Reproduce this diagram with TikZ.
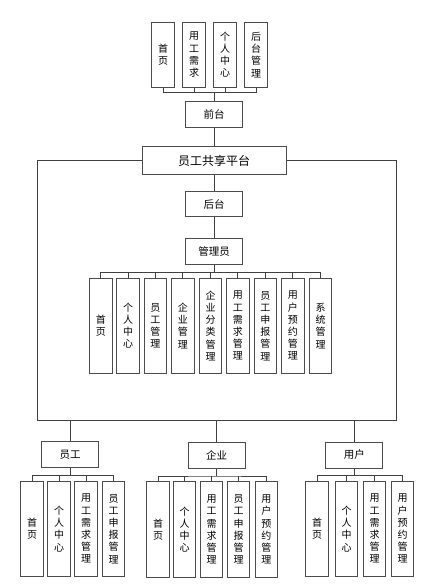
\documentclass[tikz,border=0pt]{standalone}
\usepackage{fontspec}
\setmainfont{Noto Sans CJK SC}

\begin{document}
\begin{tikzpicture}[x=1pt,y=-1pt,line width=0.8pt]
  \tikzstyle{box}=[rectangle,draw=black!70,fill=white,line width=1pt,minimum width=57pt,minimum height=26pt,inner sep=0pt,font=\fontsize{10.5}{12}\selectfont]
  \tikzstyle{vbox}=[rectangle,draw=black!70,fill=white,line width=1pt,minimum width=22.5pt,inner sep=0pt,align=center,font=\fontsize{10}{12.2}\selectfont]
  \tikzstyle{wire}=[draw=black!75]
  \useasboundingbox (0,0) rectangle (430,585);
  % front end
  \node[vbox,minimum height=65pt] (q1) at (163,54.8) {首\\页};
  \node[vbox,minimum height=65pt] (q2) at (194,54.8) {用\\工\\需\\求};
  \node[vbox,minimum height=65pt] (q3) at (225,54.8) {个\\人\\中\\心};
  \node[vbox,minimum height=65pt] (q4) at (256,54.8) {后\\台\\管\\理};
  \node[box] (qt) at (214,114.5) {前台};
  \node[box,minimum width=144pt,minimum height=27.5pt,font=\fontsize{12}{14}\selectfont] (pt) at (214,160.5) {员工共享平台};
  % back end
  \node[box,minimum height=25pt] (ht) at (214,204.2) {后台};
  \node[box] (gly) at (214,251.3) {管理员};
  \node[vbox,minimum height=95pt] (g1) at (100.8,325.8) {首\\页};
  \node[vbox,minimum height=95pt] (g2) at (128,325.8) {个\\人\\中\\心};
  \node[vbox,minimum height=95pt] (g3) at (155.3,325.8) {员\\工\\管\\理};
  \node[vbox,minimum height=95pt] (g4) at (182.8,325.8) {企\\业\\管\\理};
  \node[vbox,minimum height=95pt] (g5) at (210.5,325.8) {企\\业\\分\\类\\管\\理};
  \node[vbox,minimum height=95pt] (g6) at (237.8,325.8) {用\\工\\需\\求\\管\\理};
  \node[vbox,minimum height=95pt] (g7) at (265.3,325.8) {员\\工\\申\\报\\管\\理};
  \node[vbox,minimum height=95pt] (g8) at (292.8,325.8) {用\\户\\预\\约\\管\\理};
  \node[vbox,minimum height=95pt] (g9) at (320.5,325.8) {系\\统\\管\\理};
  % roles
  \node[box] (yg) at (70,454.7) {员工};
  \node[box] (qy) at (216.7,455.3) {企业};
  \node[box] (yh) at (354.3,455) {用户};
  \node[vbox,minimum height=95.5pt] (e1) at (32.2,528.8) {首\\页};
  \node[vbox,minimum height=95.5pt] (e2) at (59.2,528.8) {个\\人\\中\\心};
  \node[vbox,minimum height=95.5pt] (e3) at (86.2,528.8) {用\\工\\需\\求\\管\\理};
  \node[vbox,minimum height=95.5pt] (e4) at (113.5,528.8) {员\\工\\申\\报\\管\\理};
  \node[vbox,minimum height=95.5pt] (c1) at (158,529.5) {首\\页};
  \node[vbox,minimum height=95.5pt] (c2) at (184.5,529.5) {个\\人\\中\\心};
  \node[vbox,minimum height=95.5pt] (c3) at (211.5,529.5) {用\\工\\需\\求\\管\\理};
  \node[vbox,minimum height=95.5pt] (c4) at (238.7,529.5) {员\\工\\申\\报\\管\\理};
  \node[vbox,minimum height=95.5pt] (c5) at (266.3,529.5) {用\\户\\预\\约\\管\\理};
  \node[vbox,minimum height=95.5pt] (u1) at (317.2,528.8) {首\\页};
  \node[vbox,minimum height=95.5pt] (u2) at (346.5,528.8) {个\\人\\中\\心};
  \node[vbox,minimum height=95.5pt] (u3) at (374.5,528.8) {用\\工\\需\\求\\管\\理};
  \node[vbox,minimum height=95.5pt] (u4) at (402.5,528.8) {用\\户\\预\\约\\管\\理};
  % buses
  \coordinate (bq) at (214,92.7);
  \coordinate (bg) at (214,272.7);
  \coordinate (fl) at (37,420.7);
  \coordinate (fr) at (396.7,420.7);
  \coordinate (be) at (70,475.3);
  \coordinate (bc) at (216.7,476);
  \coordinate (bu) at (354.3,475.3);
  \draw[wire] (q1.south) |- (bq) -| (q4.south);
  \draw[wire] (q2.south) -- (q2.south |- bq);
  \draw[wire] (q3.south) -- (q3.south |- bq);
  \draw[wire] (bq) -- (qt.north);
  \draw[wire] (qt) -- (pt);
  \draw[wire] (pt) -- (ht);
  \draw[wire] (ht) -- (gly);
  \draw[wire] (pt.west) -| (fl) -- (fr) |- (pt.east);
  \draw[wire] (gly.south) -- (bg);
  \draw[wire] (g1.north) |- (bg) -| (g9.north);
  \draw[wire] (g2.north) -- (g2.north |- bg);
  \draw[wire] (g3.north) -- (g3.north |- bg);
  \draw[wire] (g4.north) -- (g4.north |- bg);
  \draw[wire] (g5.north) -- (g5.north |- bg);
  \draw[wire] (g6.north) -- (g6.north |- bg);
  \draw[wire] (g7.north) -- (g7.north |- bg);
  \draw[wire] (g8.north) -- (g8.north |- bg);
  \draw[wire] (yg.north) -- (yg.north |- fl);
  \draw[wire] (qy.north) -- (qy.north |- fl);
  \draw[wire] (yh.north) -- (yh.north |- fl);
  \draw[wire] (yg.south) -- (be);
  \draw[wire] (e1.north) |- (be) -| (e4.north);
  \draw[wire] (e2.north) -- (e2.north |- be);
  \draw[wire] (e3.north) -- (e3.north |- be);
  \draw[wire] (qy.south) -- (bc);
  \draw[wire] (c1.north) |- (bc) -| (c5.north);
  \draw[wire] (c2.north) -- (c2.north |- bc);
  \draw[wire] (c3.north) -- (c3.north |- bc);
  \draw[wire] (c4.north) -- (c4.north |- bc);
  \draw[wire] (yh.south) -- (bu);
  \draw[wire] (u1.north) |- (bu) -| (u4.north);
  \draw[wire] (u2.north) -- (u2.north |- bu);
  \draw[wire] (u3.north) -- (u3.north |- bu);
\end{tikzpicture}
\end{document}
